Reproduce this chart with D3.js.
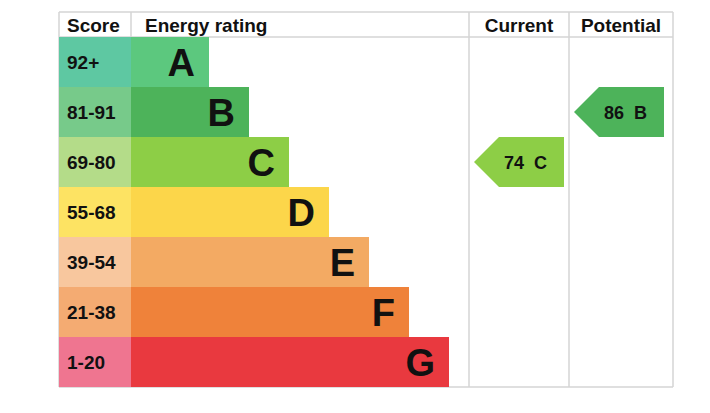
<!DOCTYPE html>
<html lang="en">
<head>
    <meta charset="UTF-8">
    <title>Energy rating</title>
    <script src="https://cdn.jsdelivr.net/npm/d3@7/dist/d3.min.js"></script>
    <style>
        body { margin: 0; background: #fff; }
        text { font-family: "Liberation Sans", Arial, Helvetica, sans-serif; font-weight: bold; fill: #111; }
    </style>
</head>
<body>
<script>
    // 画布大小
    const width = 710;
    const height = 413;

    // 数据
    const bands = ['A', 'B', 'C', 'D', 'E', 'F', 'G'];
    const scoreLabels = ['92+', '81-91', '69-80', '55-68', '39-54', '21-38', '1-20'];
    const bandMin = [92, 81, 69, 55, 39, 21, 1];
    const scoreColors = ['#5ec8a2', '#77ca8a', '#b4dc89', '#fde363', '#f8c79e', '#f4ab72', '#ef7590'];
    const barColors = ['#5cc87e', '#4db35a', '#8dce46', '#fcd64a', '#f3aa63', '#ef823a', '#e9393f'];
    const headers = ['Score', 'Energy rating', 'Current', 'Potential'];
    const currentScore = 74;
    const potentialScore = 86;

    // 布局
    const mLeft = 59, mRight = 673, mTop = 12, headH = 25, mBottom = 387;
    const scoreW = 72;            // 分数列宽
    const colCurrent = 469, colPotential = 569;
    const grid = '#d4d4d4';

    let svg = d3.select('body')
        .append('svg')
        .attr('width', width)
        .attr('height', height);

    // 行比例尺
    let y = d3.scaleBand()
        .domain(bands)
        .range([mTop + headH, mBottom]);

    // 条形右端比例尺
    let barEnd = d3.scaleLinear()
        .domain([0, bands.length - 1])
        .range([209, 449]);

    const barX = mLeft + scoreW;

    // 网格线
    let lines = [
        [mLeft, mTop, mRight, mTop],
        [mLeft, mTop + headH, mRight, mTop + headH],
        [mLeft, mBottom, mRight, mBottom],
        [mLeft, mTop, mLeft, mBottom],
        [barX, mTop, barX, mTop + headH],
        [colCurrent, mTop, colCurrent, mBottom],
        [colPotential, mTop, colPotential, mBottom],
        [mRight, mTop, mRight, mBottom]
    ];
    svg.selectAll('line.grid')
        .data(lines)
        .enter()
        .append('line')
        .attr('class', 'grid')
        .attr('x1', d => d[0]).attr('y1', d => d[1])
        .attr('x2', d => d[2]).attr('y2', d => d[3])
        .attr('stroke', grid)
        .attr('stroke-width', 1.5);

    // 表头
    const headX = [mLeft + 8, barX + 14, (colCurrent + colPotential) / 2, (colPotential + mRight) / 2];
    const headAnchor = ['start', 'start', 'middle', 'middle'];
    svg.selectAll('text.head')
        .data(headers)
        .enter()
        .append('text')
        .attr('class', 'head')
        .attr('x', (d, i) => headX[i])
        .attr('y', mTop + 20)
        .attr('text-anchor', (d, i) => headAnchor[i])
        .attr('font-size', 19)
        .text(d => d);

    // 行
    let rows = svg.selectAll('g.row')
        .data(bands)
        .enter()
        .append('g')
        .attr('class', 'row')
        .attr('transform', d => `translate(0, ${y(d)})`);

    rows.append('rect')
        .attr('x', mLeft)
        .attr('width', scoreW)
        .attr('height', y.bandwidth())
        .attr('fill', (d, i) => scoreColors[i]);

    rows.append('rect')
        .attr('x', barX)
        .attr('width', (d, i) => barEnd(i) - barX)
        .attr('height', y.bandwidth())
        .attr('fill', (d, i) => barColors[i]);

    rows.append('text')
        .attr('x', mLeft + 8)
        .attr('y', y.bandwidth() / 2 + 6.5)
        .attr('font-size', 19)
        .text((d, i) => scoreLabels[i]);

    rows.append('text')
        .attr('x', (d, i) => barEnd(i) - 14)
        .attr('y', y.bandwidth() / 2 + 13.5)
        .attr('text-anchor', 'end')
        .attr('font-size', 38)
        .text(d => d);

    // 分数所在等级
    function bandOf(score) {
        return bandMin.findIndex(m => score >= m);
    }

    // 箭头
    const tip = 25;
    function arrow(x0, x1, score) {
        let i = bandOf(score);
        let y0 = y(bands[i]), h = y.bandwidth();
        let g = svg.append('g');
        g.append('path')
            .attr('d', `M${x0},${y0 + h / 2} L${x0 + tip},${y0} L${x1},${y0} L${x1},${y0 + h} L${x0 + tip},${y0 + h} Z`)
            .attr('fill', barColors[i]);
        g.append('text')
            .attr('x', (x0 + tip + x1) / 2 - 6)
            .attr('y', y0 + h / 2 + 6.5)
            .attr('text-anchor', 'middle')
            .attr('font-size', 18)
            .attr('xml:space', 'preserve')
            .text(`${score}  ${bands[i]}`);
    }

    arrow(colCurrent + 5, colPotential - 5, currentScore);
    arrow(colPotential + 5, mRight - 9, potentialScore);
</script>
</body>
</html>
